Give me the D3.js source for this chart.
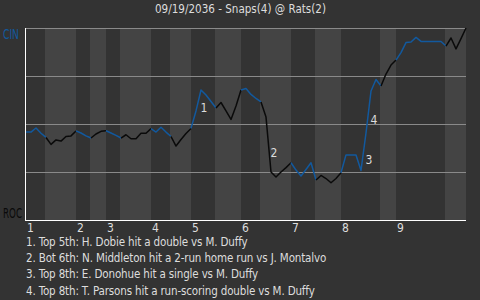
<!DOCTYPE html>
<html>
<head>
<meta charset="utf-8">
<script src="https://cdn.jsdelivr.net/npm/d3@7"></script>
<style>
body { margin: 0; background: #333; }
text { font-family: "DejaVu Sans Condensed", "Liberation Sans Narrow", sans-serif; }
</style>
</head>
<body>
<script>
const title = "09/19/2036 - Snaps(4) @ Rats(2)";
const awayTeam = "CIN";
const homeTeam = "ROC";
const innings = ["1", "2", "3", "4", "5", "6", "7", "8", "9"];
// plate appearance index where each half inning starts (top 1st, bot 1st, ...)
const halfStarts = [0, 4, 10, 13, 16, 19, 25, 29, 33, 38, 43, 47, 53, 58, 63, 71, 74, 84];
const totalPA = 88;
// CIN win probability (%) after each plate appearance
const winProb = [
    45.8, 45.8, 47.9, 45.2, 43.0, 39.4, 41.7, 41.1, 43.5, 43.8,
    46.4, 45.3, 43.8, 42.7, 44.8, 46.2, 46.5, 45.3, 44.1, 42.7,
    44.4, 42.3, 42.3, 45.2, 45.2, 47.6, 45.8, 48.3, 45.8, 43.5,
    38.5, 41.9, 45.1, 47.7, 56.8, 67.7, 65.1, 61.7, 58.3, 61.2,
    56.8, 52.4, 59.4, 67.7, 68.5, 65.4, 63.3, 61.5, 53.6, 25.0,
    22.4, 25.0, 27.3, 29.8, 26.0, 22.9, 26.3, 29.8, 20.8, 23.2,
    21.6, 19.4, 21.6, 24.6, 33.9, 33.9, 33.9, 25.8, 45.3, 67.2,
    73.2, 69.8, 76.0, 80.7, 83.3, 87.2, 92.4, 92.7, 95.1, 93.0,
    93.0, 93.0, 93.0, 93.0, 90.6, 94.8, 89.1, 94.5, 100
];
const gridValues = [25, 50, 75, 100];
const eventPA = [35, 49, 68, 69];
const eventText = [
    "Top 5th: H. Dobie hit a double vs M. Duffy",
    "Bot 6th: N. Middleton hit a 2-run home run vs J. Montalvo",
    "Top 8th: E. Donohue hit a single vs M. Duffy",
    "Top 8th: T. Parsons hit a run-scoring double vs M. Duffy"
];

const width = 480, height = 300;
const awayColor = "#12599e", homeColor = "#0a0a0a";

const svg = d3.select("body").append("svg")
    .attr("width", width)
    .attr("height", height)
    .style("display", "block");

svg.append("rect").attr("width", width).attr("height", height).attr("fill", "#333");

const x = d3.scaleLinear().domain([0, totalPA]).range([26, 466]);
const y = d3.scaleLinear().domain([0, 100]).range([220, 28]);

// half inning stripes
const halves = halfStarts.map((s, i) => ({
    start: s,
    end: i + 1 < halfStarts.length ? halfStarts[i + 1] : totalPA,
    top: i % 2 == 0
}));

svg.append("g").selectAll("rect")
    .data(halves)
    .enter()
    .append("rect")
    .attr("x", d => d.top ? x(d.start) : x(d.start) - 1)
    .attr("y", y(100))
    .attr("width", d => d.top ? x(d.end) - x(d.start) - 1 : x(d.end) - x(d.start) + 1)
    .attr("height", y(0) - y(100))
    .attr("fill", d => d.top ? "#333" : "#444");

svg.append("g").selectAll("line")
    .data(gridValues)
    .enter()
    .append("line")
    .attr("x1", x(0)).attr("x2", x(totalPA))
    .attr("y1", d => y(d) + 0.5).attr("y2", d => y(d) + 0.5)
    .attr("stroke", "#8a8a8a")
    .attr("stroke-width", 1);

// axes
svg.append("line")
    .attr("x1", x(0) - 0.5).attr("x2", x(0) - 0.5)
    .attr("y1", y(100)).attr("y2", y(0) + 1)
    .attr("stroke", "#fff");
svg.append("line")
    .attr("x1", x(0) - 1).attr("x2", x(totalPA))
    .attr("y1", y(0) + 0.5).attr("y2", y(0) + 0.5)
    .attr("stroke", "#fff");

// win probability line, one piece per half inning
const line = d3.line()
    .x(d => x(d[0]))
    .y(d => y(d[1]));

svg.append("g").selectAll("path")
    .data(halves)
    .enter()
    .append("path")
    .attr("d", d => line(d3.range(d.start, Math.min(d.end, totalPA) + 1).map(i => [i, winProb[i]])))
    .attr("fill", "none")
    .attr("stroke", d => d.top ? awayColor : homeColor)
    .attr("stroke-width", 1.5)
    .attr("stroke-linejoin", "round");

// event markers
svg.append("g").selectAll("text")
    .data(eventPA)
    .enter()
    .append("text")
    .attr("x", d => x(d) - 0.5)
    .attr("y", d => (y(winProb[d]) + y(winProb[d - 1])) / 2 + 12)
    .attr("fill", "#ddd")
    .attr("font-size", 12)
    .text((d, i) => i + 1);

// team labels (squeezed to the narrow face of the original)
svg.append("text")
    .attr("x", 3).attr("y", y(100) + 11)
    .attr("fill", awayColor)
    .attr("font-size", 13.5)
    .attr("textLength", 16)
    .attr("lengthAdjust", "spacingAndGlyphs")
    .text(awayTeam);
svg.append("text")
    .attr("x", 3).attr("y", y(0) - 2.5)
    .attr("fill", homeColor)
    .attr("font-size", 13.5)
    .attr("textLength", 19)
    .attr("lengthAdjust", "spacingAndGlyphs")
    .text(homeTeam);

// inning labels
svg.append("g").selectAll("text")
    .data(innings)
    .enter()
    .append("text")
    .attr("x", (d, i) => x(halfStarts[i * 2]) + 1)
    .attr("y", 232)
    .attr("fill", "#ddd")
    .attr("font-size", 12)
    .text(d => d);

svg.append("text")
    .attr("x", 155).attr("y", 13)
    .attr("fill", "#ddd")
    .attr("font-size", 13)
    .attr("textLength", 171)
    .attr("lengthAdjust", "spacingAndGlyphs")
    .text(title);

svg.append("g").selectAll("text")
    .data(eventText)
    .enter()
    .append("text")
    .attr("x", 26)
    .attr("y", (d, i) => 246 + i * 16.2)
    .attr("fill", "#ddd")
    .attr("font-size", 11.5)
    .attr("letter-spacing", -0.15)
    .text((d, i) => `${i + 1}. ${d}`);
</script>
</body>
</html>
